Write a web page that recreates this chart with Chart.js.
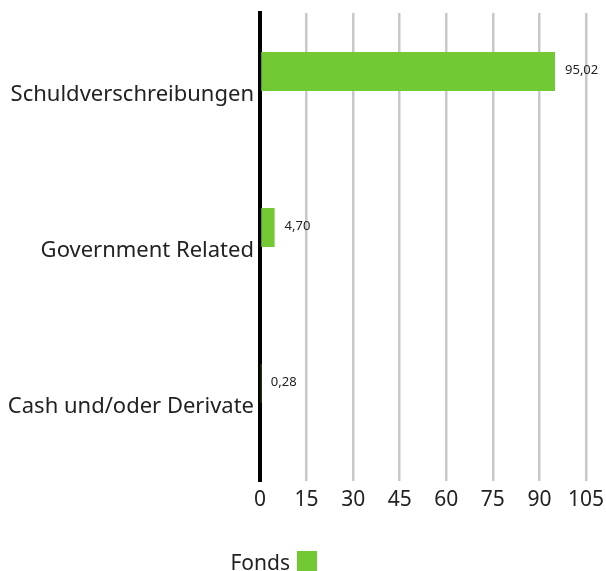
<!DOCTYPE html>
<html>
<head>
<meta charset="utf-8">
<script src="https://cdn.jsdelivr.net/npm/chart.js@4/dist/chart.umd.min.js"></script>
<style>
  html, body { margin: 0; padding: 0; background: #fff; }
  #wrap { width: 606px; height: 571px; position: relative; }
</style>
</head>
<body>
<div id="wrap"><canvas id="chart"></canvas></div>
<script>
// DATA
const categories = ['Schuldverschreibungen', 'Government Related', 'Cash und/oder Derivate'];
const fondsValues = [95.02, 4.70, 0.28];
const fondsLabels = ['95,02', '4,70', '0,28'];
const xTicks = [0, 15, 30, 45, 60, 75, 90, 105];
const legendLabel = 'Fonds';

const FONT = '"Noto Sans", "Open Sans", sans-serif';
const GREEN = '#72c933';

// value labels to the right of each bar
const valueLabels = {
    id: 'valueLabels',
    afterDatasetsDraw(chart) {
        const ctx = chart.ctx;
        const meta = chart.getDatasetMeta(0);
        ctx.save();
        ctx.font = '13px ' + FONT;
        ctx.fillStyle = '#222';
        ctx.textBaseline = 'middle';
        ctx.textAlign = 'left';
        meta.data.forEach((bar, i) => {
            ctx.fillText(fondsLabels[i], bar.x + 10, bar.y - 1);
        });
        ctx.restore();
    }
};

// legend: text first, colour box after it
const bottomLegend = {
    id: 'bottomLegend',
    afterDraw(chart) {
        const ctx = chart.ctx;
        ctx.save();
        ctx.font = '21px ' + FONT;
        ctx.fillStyle = '#222';
        ctx.textBaseline = 'middle';
        ctx.textAlign = 'right';
        ctx.fillText(legendLabel, 290, 564);
        ctx.fillStyle = GREEN;
        ctx.fillRect(297, 551, 20, 20);
        ctx.restore();
    }
};

new Chart(document.getElementById('chart'), {
    type: 'bar',
    data: {
        labels: categories,
        datasets: [
            { label: legendLabel, data: fondsValues, backgroundColor: GREEN, borderWidth: 0 },
            { label: '', data: [null, null, null], backgroundColor: 'transparent' }
        ]
    },
    options: {
        indexAxis: 'y',
        responsive: true,
        maintainAspectRatio: false,
        animation: false,
        categoryPercentage: 0.5,
        barPercentage: 1,
        layout: { padding: { top: 13, right: 0, bottom: 50, left: 0 } },
        plugins: {
            tooltip: { enabled: false },
            legend: { display: false }
        },
        scales: {
            x: {
                min: 0,
                max: 105,
                afterBuildTicks: axis => { axis.ticks = xTicks.map(v => ({ value: v })); },
                grid: { color: '#c8c8c8', lineWidth: 2.5, drawTicks: false },
                border: { display: false },
                ticks: { font: { family: FONT, size: 21 }, color: '#222', padding: 6 },
                afterFit: axis => {
                    axis.height = 40;
                    axis.paddingLeft = 0;
                    axis.paddingRight = 20;
                }
            },
            y: {
                grid: { display: false, drawTicks: false },
                border: { color: '#000', width: 4 },
                ticks: { font: { family: FONT, size: 22 }, color: '#222', padding: 6, labelOffset: 4 },
                afterFit: axis => {
                    axis.width = 260;
                    axis.paddingTop = 0;
                    axis.paddingBottom = 0;
                }
            }
        }
    },
    plugins: [valueLabels, bottomLegend]
});
</script>
</body>
</html>
